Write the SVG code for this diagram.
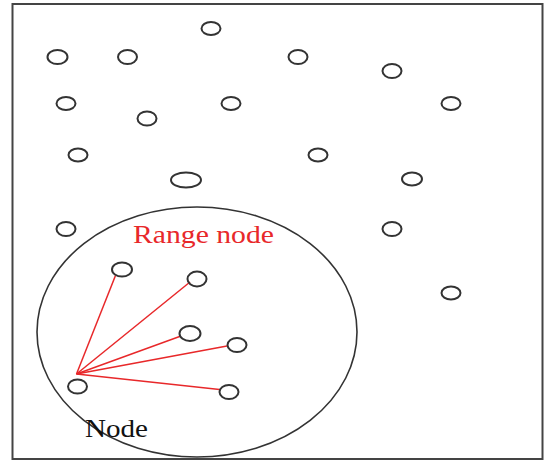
<svg xmlns="http://www.w3.org/2000/svg" width="545" height="461" viewBox="0 0 545 461">
  <style>
    .node { fill: none; stroke: #333; stroke-width: 2; }
    .link { stroke: #e8282a; stroke-width: 1.5; fill: none; }
    .label { font-family: "Liberation Serif", "Times New Roman", serif; }
  </style>
  <rect x="0" y="0" width="545" height="461" fill="#fff"/>
  <!-- outer frame -->
  <rect x="12.5" y="4" width="530" height="455" fill="none" stroke="#444" stroke-width="2"/>

  <!-- transmission range -->
  <g id="range">
    <ellipse cx="197" cy="332" rx="160" ry="125" fill="none" stroke="#333" stroke-width="1.6"/>
    <text class="label" x="133" y="243" font-size="25" fill="#e8282a" textLength="141" lengthAdjust="spacingAndGlyphs">Range node</text>
  </g>

  <!-- links from the source node to its neighbours -->
  <g id="connectors">
    <line class="link" x1="76.5" y1="374" x2="115.5" y2="275.5"/>
    <line class="link" x1="76.5" y1="374" x2="190" y2="282"/>
    <line class="link" x1="76.5" y1="374" x2="181" y2="336"/>
    <line class="link" x1="76.5" y1="374" x2="227" y2="346"/>
    <line class="link" x1="76.5" y1="374" x2="219.5" y2="389.5"/>
  </g>

  <!-- scattered nodes -->
  <g id="n1"><ellipse class="node" cx="211" cy="28.5" rx="9.5" ry="6.5"/></g>
  <g id="n2"><ellipse class="node" cx="57.5" cy="57" rx="10" ry="7"/></g>
  <g id="n3"><ellipse class="node" cx="127.5" cy="57" rx="9.5" ry="7"/></g>
  <g id="n4"><ellipse class="node" cx="298" cy="57" rx="9.5" ry="7"/></g>
  <g id="n5"><ellipse class="node" cx="392" cy="71" rx="9.5" ry="7"/></g>
  <g id="n6"><ellipse class="node" cx="66" cy="103.5" rx="9.5" ry="6.5"/></g>
  <g id="n7"><ellipse class="node" cx="147" cy="118.5" rx="9.5" ry="7"/></g>
  <g id="n8"><ellipse class="node" cx="231" cy="103.5" rx="9.5" ry="6.5"/></g>
  <g id="n9"><ellipse class="node" cx="451" cy="103.5" rx="9.5" ry="6.5"/></g>
  <g id="n10"><ellipse class="node" cx="78" cy="155" rx="9.5" ry="6.5"/></g>
  <g id="n11"><ellipse class="node" cx="318" cy="155" rx="9.5" ry="6.5"/></g>
  <g id="n12"><ellipse class="node" cx="412" cy="179" rx="10" ry="6.5"/></g>
  <g id="n13"><ellipse class="node" cx="186" cy="180" rx="15" ry="7.5"/></g>
  <g id="n14"><ellipse class="node" cx="66" cy="229" rx="9.5" ry="7"/></g>
  <g id="n15"><ellipse class="node" cx="392" cy="229" rx="9.5" ry="7"/></g>
  <g id="n16"><ellipse class="node" cx="451" cy="293" rx="9.5" ry="6.5"/></g>

  <!-- neighbours inside the range -->
  <g id="r1"><ellipse class="node" cx="122" cy="269.5" rx="10" ry="7"/></g>
  <g id="r2"><ellipse class="node" cx="197" cy="279" rx="9.5" ry="7.5"/></g>
  <g id="r3"><ellipse class="node" cx="190" cy="333.5" rx="10.5" ry="7.5"/></g>
  <g id="r4"><ellipse class="node" cx="237" cy="345" rx="9.5" ry="7"/></g>
  <g id="r5"><ellipse class="node" cx="229" cy="392" rx="9.5" ry="7"/></g>

  <!-- source node -->
  <g id="source">
    <ellipse class="node" cx="77.5" cy="386.5" rx="9.5" ry="7"/>
    <text class="label" x="85" y="437" font-size="25" fill="#111" textLength="63" lengthAdjust="spacingAndGlyphs">Node</text>
  </g>
</svg>
